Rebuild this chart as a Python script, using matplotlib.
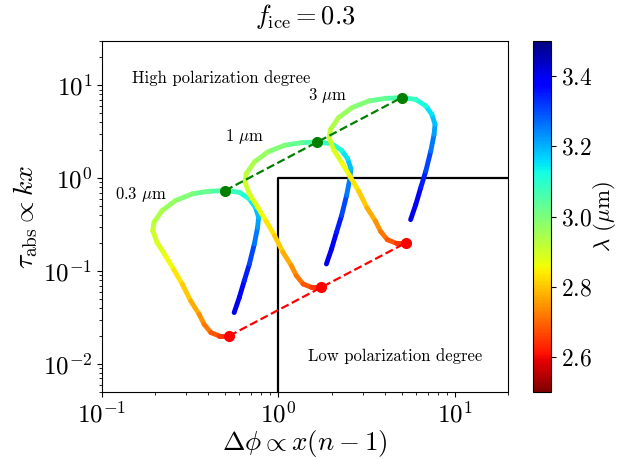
import numpy as np
import matplotlib
matplotlib.use('Agg')
import matplotlib.pyplot as plt
from matplotlib.collections import LineCollection
from matplotlib.colors import Normalize
from matplotlib.cm import ScalarMappable

plt.rcParams['mathtext.fontset'] = 'cm'
plt.rcParams['font.family'] = 'cmr10'
plt.rcParams['axes.formatter.use_mathtext'] = True

# Wavelength along the track (um) and track for the 0.3 um grain
wavelength = [3.42, 3.39, 3.36, 3.33, 3.28, 3.23, 3.20, 3.17, 3.13, 3.10,
              3.07, 3.04, 3.01, 2.98, 2.95, 2.93, 2.91, 2.89, 2.87, 2.85,
              2.82, 2.79, 2.76, 2.73, 2.70, 2.66, 2.63]
dphi_base = [0.561, 0.600, 0.640, 0.684, 0.730, 0.762, 0.772, 0.740, 0.684, 0.600,
             0.499, 0.405, 0.325, 0.261, 0.219, 0.197, 0.194, 0.205, 0.229, 0.2555,
             0.285, 0.318, 0.355, 0.379, 0.414, 0.461, 0.526]
tau_base = [0.0358, 0.0520, 0.0787, 0.119, 0.196, 0.296, 0.380, 0.487, 0.599, 0.706,
            0.737, 0.724, 0.679, 0.575, 0.448, 0.335, 0.273, 0.204, 0.1465, 0.1035,
            0.0725, 0.0479, 0.0344, 0.0268, 0.0218, 0.0201, 0.0201]
i_green = 10   # index of the high-tau point
i_red = 26     # index of the low-tau point

sizes = [0.3, 1.0, 3.0]        # grain sizes (um)
size_labels = [r'0.3 $\mu$m', r'1 $\mu$m', r'3 $\mu$m']
label_pos = [(0.118, 0.66), (0.50, 2.8), (1.47, 7.8)]

f_ice = 0.3
lam_min, lam_max = 2.5, 3.5
xlim = (0.1, 20)
ylim = (0.005, 30)

fig = plt.figure(figsize=(6.19, 4.59), dpi=100)
ax = fig.add_axes([102/619, 1-392/459, 406/619, 351/459])
cax = fig.add_axes([533/619, 1-392/459, 18/619, 351/459])

ax.set_xscale('log')
ax.set_yscale('log')
ax.set_xlim(xlim)
ax.set_ylim(ylim)

# Low-polarization region
ax.plot([1, 1, xlim[1]], [ylim[0], 1, 1], color='k', lw=1.6, zorder=1)

norm = Normalize(lam_min, lam_max)
cmap = plt.get_cmap('jet_r')
lam = np.array(wavelength)
lam_mid = 0.5 * (lam[:-1] + lam[1:])

greens_x, greens_y, reds_x, reds_y = [], [], [], []
for a, lab, pos in zip(sizes, size_labels, label_pos):
    s = a / sizes[0]
    xs = np.array(dphi_base) * s
    ys = np.array(tau_base) * s
    pts = np.column_stack([xs, ys]).reshape(-1, 1, 2)
    segs = np.concatenate([pts[:-1], pts[1:]], axis=1)
    lc = LineCollection(segs, colors=cmap(norm(lam_mid)), linewidths=3.5,
                        capstyle='round', joinstyle='round', zorder=2)
    ax.add_collection(lc)
    greens_x.append(xs[i_green]); greens_y.append(ys[i_green])
    reds_x.append(xs[i_red]); reds_y.append(ys[i_red])
    ax.text(pos[0], pos[1], lab, fontsize=12, va='center', ha='left')

ax.plot(greens_x, greens_y, '--', color='g', lw=1.6, zorder=3)
ax.plot(reds_x, reds_y, '--', color='r', lw=1.6, zorder=3)
ax.plot(greens_x, greens_y, 'o', color='g', ms=7, zorder=4)
ax.plot(reds_x, reds_y, 'o', color='r', ms=7, zorder=4)

ax.text(0.148, 11.9, 'High polarization degree', fontsize=12, va='center', ha='left')
ax.text(1.48, 0.0122, 'Low polarization degree', fontsize=12, va='center', ha='left')

ax.set_xlabel(r'$\Delta\phi \propto x(n-1)$', fontsize=19.5, labelpad=0)
ax.set_ylabel(r'$\tau_{\rm abs} \propto kx$', fontsize=20, labelpad=2)
ax.set_title(r'$f_{\rm ice} = %g$' % f_ice, fontsize=19, pad=12)
ax.tick_params(labelsize=18)

cb = fig.colorbar(ScalarMappable(norm=norm, cmap=cmap), cax=cax)
cb.ax.tick_params(labelsize=17)
cb.set_label(r'$\lambda$ ($\mu$m)', fontsize=16.5, labelpad=-1)

fig.savefig('out.png', dpi=100)
